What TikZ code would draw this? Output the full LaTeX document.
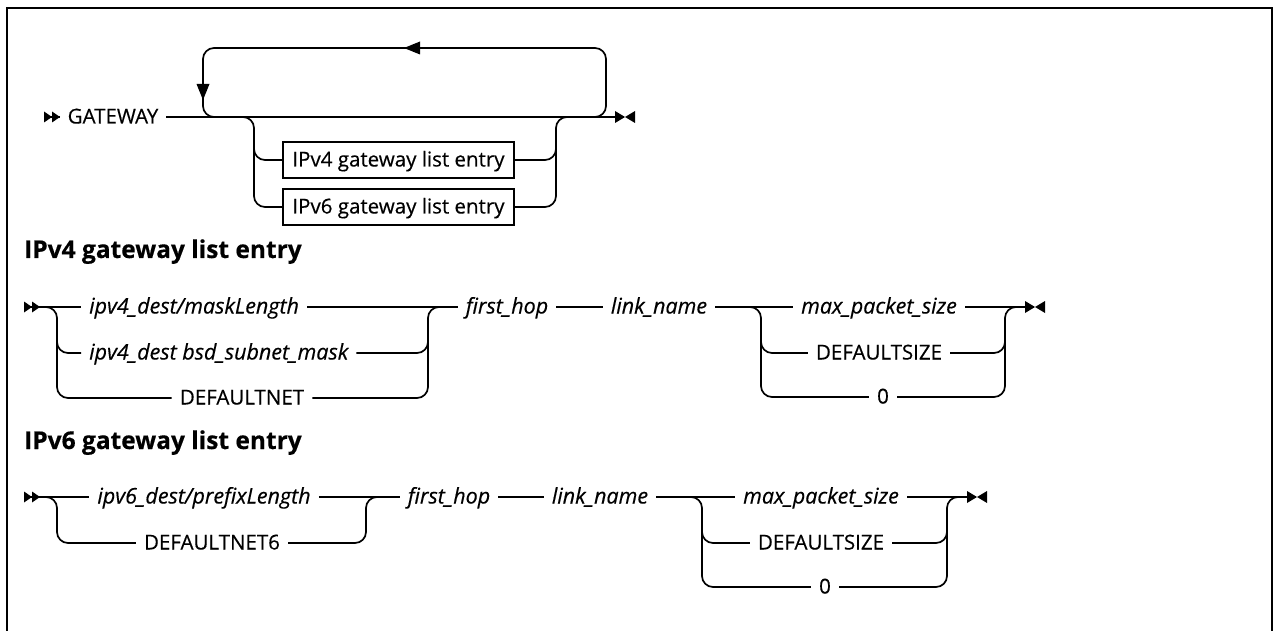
\documentclass[tikz,border=0pt]{standalone}
\usepackage{fontspec}
\setmainfont{Open Sans}[FakeBold=0.4]
\newfontfamily\headfont{Open Sans}[FakeBold=0.5]
\newcommand\rrstart[1]{\fill (#1) ++(0,-5.5) -- ++(8,5.5) -- ++(-8,5.5) -- cycle (#1) ++(8,-5.5) -- ++(8,5.5) -- ++(-8,5.5) -- cycle;}
\newcommand\rrend[1]{\fill (#1) ++(0,-6) -- ++(10,6) -- ++(-10,6) -- cycle (#1) ++(20,-6) -- ++(-10,6) -- ++(10,6) -- cycle;}
\begin{document}
\begin{tikzpicture}[x=1pt,y=-1pt,
  rail/.style={line width=1.7pt, rounded corners=11pt},
  lbl/.style={font=\fontsize{20.5}{24}\selectfont, text height=13pt, text depth=0pt, inner ysep=0pt, inner xsep=8pt},
  kw/.style={lbl},
  var/.style={lbl, font=\fontsize{21.5}{24}\selectfont\itshape},
  box/.style={draw, line width=1.5pt, font=\fontsize{20.5}{24}\selectfont, text height=13pt, text depth=0pt, minimum width=231pt, minimum height=36pt, inner sep=0pt},
  head/.style={font=\headfont\fontsize{24.5}{28}\selectfont\bfseries, anchor=base west, inner sep=0pt}]
\useasboundingbox (0,0) rectangle (1274,631);
% frame
\draw[line width=2.5pt] (7,640) -- (7,8) -- (1272,8) -- (1272,640);

% ---------- GATEWAY ----------
\coordinate (t0) at (44,117);
\node[kw] (gw) at (113,117) {GATEWAY};
\coordinate (tend) at (615,117);
\draw[rail] (t0) -- (gw.west);
\draw[rail] (gw.east) -- (tend);
\rrstart{t0}
\rrend{tend}
% repeat loop
\draw[rail] (591,117) -| (606,48) -| (203,117) -- (218,117);
\fill (404,48) -- ++(16,-6.5) -- ++(0,13) -- cycle;
\fill (203,100) -- ++(-6.5,-16) -- ++(13,0) -- cycle;
% choice boxes
\node[box] (b4) at (398.5,160) {IPv4 gateway list entry};
\node[box] (b6) at (398.5,207) {IPv6 gateway list entry};
\draw[rail] (243,117) -| (254,207) -- (b6.west);
\draw[rail] (254,135) |- (b4.west);
\draw[rail] (b6.east) -| (556,117) -- (568,117);
\draw[rail] (b4.east) -| (556,135);

% ---------- IPv4 gateway list entry ----------
\node[head] (h4) at (24,258) {IPv4 gateway list entry};
\coordinate (a0) at (24,307);
\node[var, anchor=west] (a1) at (81,307) {ipv4\_dest/maskLength};
\node[var, anchor=west] (a2) at (81,353) {ipv4\_dest bsd\_subnet\_mask};
\node[kw] (a3) at (242,398) {DEFAULTNET};
\node[var] (afh) at (507,307) {first\_hop};
\node[var] (aln) at (659,307) {link\_name};
\node[var] (am1) at (879,307) {max\_packet\_size};
\node[kw] (am2) at (879,353) {DEFAULTSIZE};
\node[kw] (am3) at (883,397) {0};
\coordinate (aend) at (1025,307);
\draw[rail] (a0) -- (a1.west);
\draw[rail] (a1.east) -- (afh.west);
\draw[rail] (afh.east) -- (aln.west);
\draw[rail] (aln.east) -- (am1.west);
\draw[rail] (am1.east) -- (aend);
\rrstart{a0}
\rrend{aend}
\draw[rail] (47,307) -| (57,398) -- (a3.west);
\draw[rail] (57,328) |- (a2.west);
\draw[rail] (a3.east) -| (428,307) -- (440,307);
\draw[rail] (a2.east) -| (428,328);
\draw[rail] (750,307) -| (761,397) -- (am3.west);
\draw[rail] (761,328) |- (am2.west);
\draw[rail] (am3.east) -| (1005,307) -- (1017,307);
\draw[rail] (am2.east) -| (1005,328);

% ---------- IPv6 gateway list entry ----------
\node[head] (h6) at (24,449) {IPv6 gateway list entry};
\coordinate (c0) at (24,497);
\node[var] (c1) at (204,497) {ipv6\_dest/prefixLength};
\node[kw] (c2) at (212,543) {DEFAULTNET6};
\node[var] (cfh) at (449,497) {first\_hop};
\node[var] (cln) at (600,497) {link\_name};
\node[var] (cm1) at (821,497) {max\_packet\_size};
\node[kw] (cm2) at (821,543) {DEFAULTSIZE};
\node[kw] (cm3) at (825,587) {0};
\coordinate (cend) at (967,497);
\draw[rail] (c0) -- (c1.west);
\draw[rail] (c1.east) -- (cfh.west);
\draw[rail] (cfh.east) -- (cln.west);
\draw[rail] (cln.east) -- (cm1.west);
\draw[rail] (cm1.east) -- (cend);
\rrstart{c0}
\rrend{cend}
\draw[rail] (47,497) -| (57,543) -- (c2.west);
\draw[rail] (c2.east) -| (366,497) -- (378,497);
\draw[rail] (691,497) -| (702,587) -- (cm3.west);
\draw[rail] (702,518) |- (cm2.west);
\draw[rail] (cm3.east) -| (947,497) -- (959,497);
\draw[rail] (cm2.east) -| (947,518);
\end{tikzpicture}
\end{document}
